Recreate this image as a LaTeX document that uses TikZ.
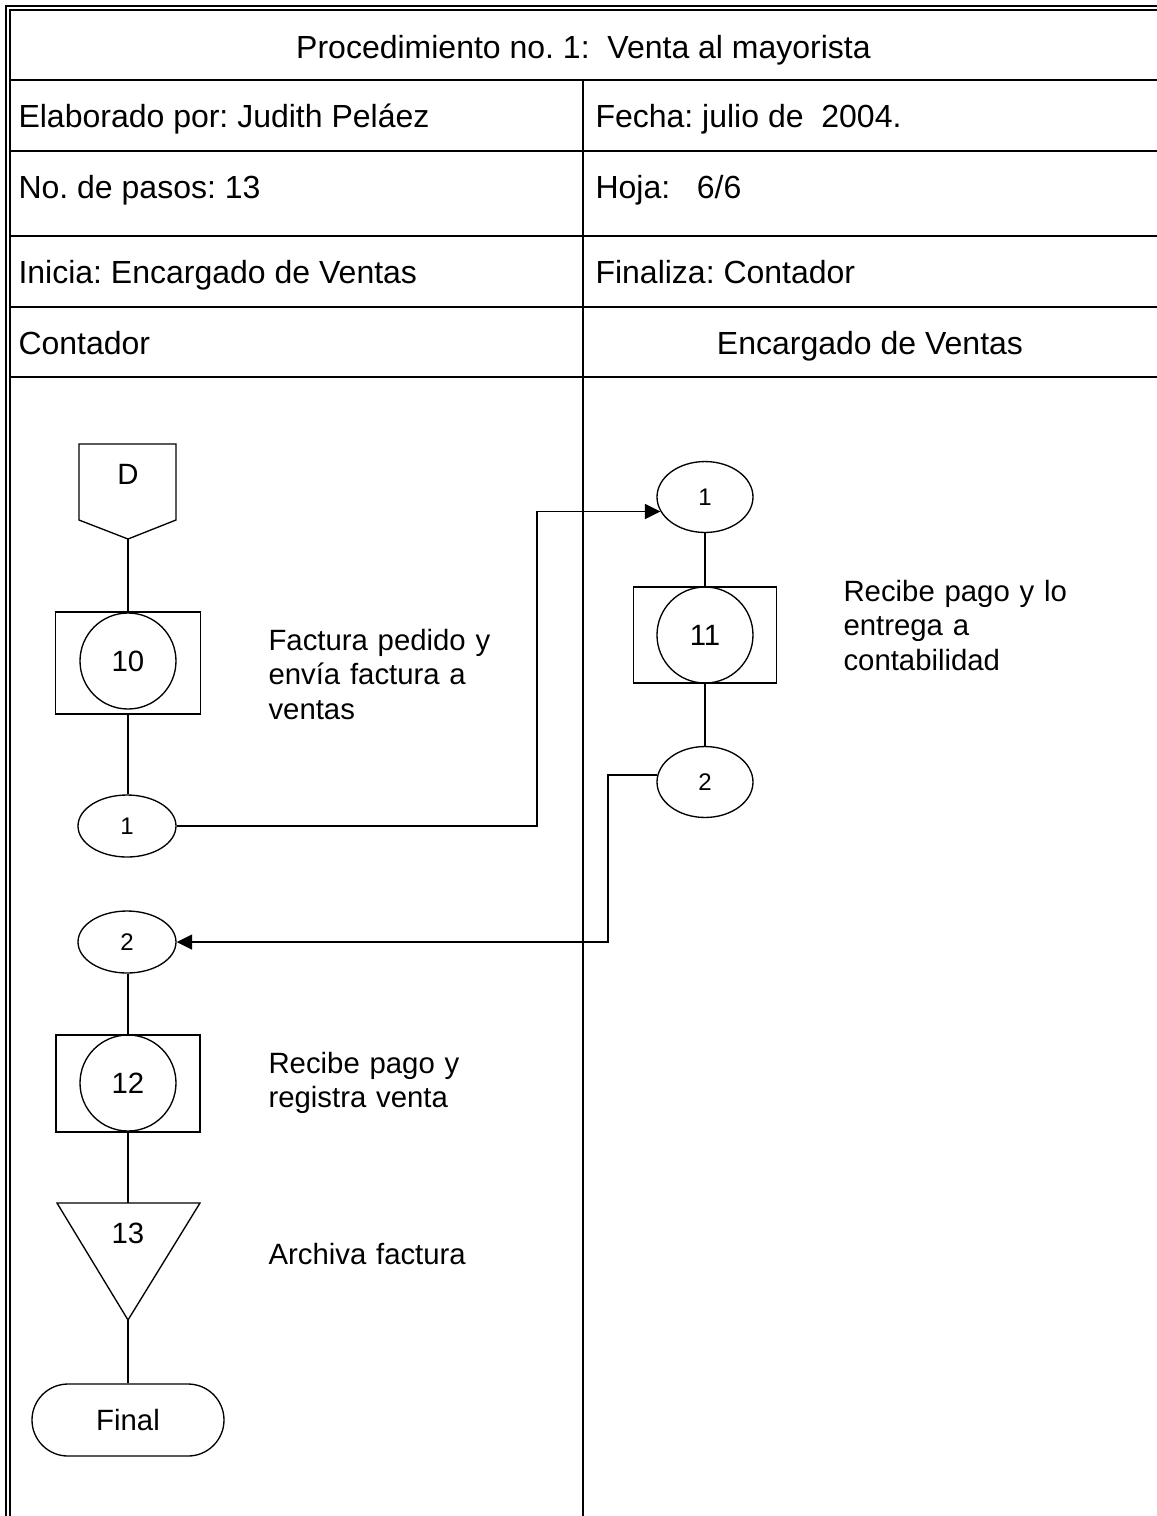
\documentclass[tikz,border=0pt]{standalone}
\usepackage{fontspec}
\setmainfont{Liberation Sans}
\usetikzlibrary{shapes.geometric,arrows.meta}
\frenchspacing
\begin{document}
\begin{tikzpicture}[x=0.375pt,y=-0.375pt,
  frame/.style={line width=0.56pt},
  rule/.style={line width=0.75pt},
  head/.style={anchor=base west,inner sep=0pt,font=\fontsize{12}{14}\selectfont},
  desc/.style={anchor=base west,inner sep=0pt,text width=120pt,align=left,font=\fontsize{11}{13.1}\selectfont},
  shp/.style={draw,line width=0.5pt},
  procbox/.style={shp,rectangle,minimum width=54pt,minimum height=37pt,inner sep=0pt},
  proccirc/.style={shp,circle,minimum size=36pt,inner sep=0pt,font=\fontsize{11}{13}\selectfont},
  connL/.style={shp,ellipse,minimum width=36.75pt,minimum height=23.25pt,inner sep=0pt,font=\fontsize{9}{11}\selectfont},
  connR/.style={connL,minimum width=36pt,minimum height=26.6pt},
  symtext/.style={inner sep=0pt,font=\fontsize{11}{13}\selectfont},
  link/.style={line width=0.65pt},
  arr/.style={link,-{Triangle[length=5.8pt,width=5.6pt]}},
]
\useasboundingbox (0,0) rectangle (1157,1516);

% ---- header table ----
\draw[frame] (6,1516) -- (6,6) -- (1157,6);
\draw[frame] (10,1516) -- (10,10) -- (1157,10);
\foreach \yy in {80,151,236,307,377}
  \draw[rule] (10,\yy) -- (1157,\yy);
\draw[rule] (583,80) -- (583,1516);

\node[head,anchor=base] (title) at (583.5,58) {Procedimiento no. 1:\ \ Venta al mayorista};
\node[head] (elab)  at (18,127) {Elaborado por: Judith Peláez};
\node[head] (fecha) at (595,127) {Fecha: julio de\ \ 2004.};
\node[head] (pasos) at (18,198) {No. de pasos: 13};
\node[head] (hoja)  at (595,198) {Hoja:\ \ \ 6/6};
\node[head] (ini)   at (18,283) {Inicia: Encargado de Ventas};
\node[head] (fin)   at (595,283) {Finaliza: Contador};
\node[head] (laneA) at (18,354) {Contador};
\node[head,anchor=base] (laneB) at (870,354) {Encargado de Ventas};

% ---- Contador lane ----
\coordinate (Dnw) at (79,444);
\coordinate (Dne) at (176,444);
\coordinate (Dse) at (176,520);
\coordinate (Dsw) at (79,520);
\coordinate (Dtip) at (128,539);
\draw[shp] (Dnw) -- (Dne) -- (Dse) -- (Dtip) -- (Dsw) -- cycle;
\node[symtext] (D) at (128,474) {D};

\node[procbox,minimum width=54.4pt,minimum height=38.25pt] (R10) at (128,663) {};
\node[proccirc] (C10) at (128,661) {10};
\node[desc] (t10) at (268,650) {Factura pedido y\\envía factura a\\ventas};

\node[connL] (L1) at (127,826) {1};
\node[connL] (L2) at (127,942) {2};

\node[procbox,minimum width=54pt,minimum height=36.4pt] (R12) at (128,1083.5) {};
\node[proccirc] (C12) at (128,1083) {12};
\node[desc] (t12) at (268,1073) {Recibe pago y\\registra venta};

\coordinate (Tl) at (57,1203);
\coordinate (Tr) at (200,1203);
\coordinate (Ttop) at (128,1203);
\coordinate (Ttip) at (128,1320);
\draw[shp] (Tl) -- (Tr) -- (Ttip) -- cycle;
\node[symtext] (T13) at (128,1233) {13};
\node[desc] (t13) at (268,1264) {Archiva factura};

\node[shp,rectangle,rounded corners=13.5pt,minimum width=72pt,minimum height=27pt,
      inner sep=0pt,font=\fontsize{11}{13}\selectfont] (Fin) at (128,1420) {Final};

% ---- Encargado de Ventas lane ----
\node[connR] (Rt1) at (705,497) {1};
\node[procbox,minimum width=53.6pt,minimum height=36pt] (R11) at (705,635) {};
\node[proccirc] (C11) at (705,635) {11};
\node[connR] (Rt2) at (705,782) {2};
\node[desc] (t11) at (843,601) {Recibe pago y lo\\entrega a\\contabilidad};

% ---- connectors ----
\coordinate (busA) at (537,0);
\coordinate (busB) at (608,0);

\draw[link] (Dtip) -- (R10.north);
\draw[link] (R10.south) -- (L1.north -| R10.south);
\draw[link] (L2.south -| R12.north) -- (R12.north);
\draw[link] (R12.south) -- (Ttop);
\draw[link] (Ttip) -- (Fin.north);
\draw[link] (Rt1.south) -- (R11.north);
\draw[link] (R11.south) -- (Rt2.north);

\draw[arr] (L1.east) -| (busA |- Rt1.198) -- (Rt1.198);
\draw[arr] (Rt2.172) -| (busB |- L2.east) -- (L2.east);
\end{tikzpicture}
\end{document}
